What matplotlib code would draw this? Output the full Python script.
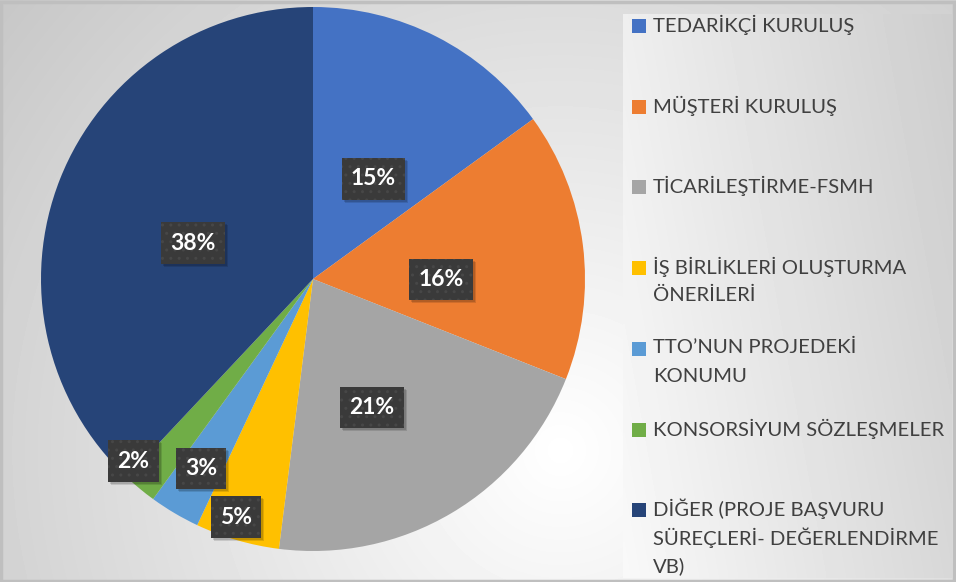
import numpy as np
import matplotlib.pyplot as plt
from matplotlib.patches import Rectangle
from matplotlib.path import Path

categories = [
    "TEDARİKÇİ KURULUŞ",
    "MÜŞTERİ KURULUŞ",
    "TİCARİLEŞTİRME-FSMH",
    "İŞ BİRLİKLERİ OLUŞTURMA\nÖNERİLERİ",
    "TTO’NUN PROJEDEKİ\nKONUMU",
    "KONSORSİYUM SÖZLEŞMELER",
    "DİĞER (PROJE BAŞVURU\nSÜREÇLERİ- DEĞERLENDİRME\nVB)",
]
shares = [15, 16, 21, 5, 3, 2, 38]
colors = ["#4472C4", "#ED7D31", "#A5A5A5", "#FFC000", "#5B9BD5", "#70AD47", "#264478"]
label_dist = [0.43, 0.47, 0.52, 0.92, 0.81, 0.94, 0.46]
label_turn = [-4, -7.5, -6, -1.7, 0, -5, 5]

W, H = 956, 582
plt.rcParams['font.family'] = ['Lato', 'DejaVu Sans']
fig = plt.figure(figsize=(W / 100, H / 100), dpi=100)

# background: radial gradient for the chart area, linear one for the legend box
bg = fig.add_axes([0, 0, 1, 1], zorder=-2)
yy, xx = np.mgrid[0:H, 0:W]
d = np.hypot(xx - 560, yy - 450) / 718
bg.imshow(1 - 0.22 * np.clip(d, 0, 1.1), cmap='gray', vmin=0, vmax=1,
          extent=[0, W, H, 0], aspect='auto', interpolation='bilinear')
ly, lx = np.mgrid[0:1:100j, 0:1:100j]
bg.imshow(0.975 - 0.13 * lx - 0.04 * (1 - ly), cmap='gray', vmin=0, vmax=1,
          extent=[623, 952, 578, 14], aspect='auto', interpolation='bilinear')
bg.add_patch(Rectangle((1.5, 1.5), W - 3, H - 3, fill=False, ec='#bfbfbf', lw=2.5))
bg.set_xlim(0, W)
bg.set_ylim(H, 0)
bg.axis('off')


def label_box(x0, y0, width, height, mutation_size):
    # more vertical padding than horizontal, like the excel data labels
    px, py = 0.4 * mutation_size, 0.45 * mutation_size
    x0, y0 = x0 - px, y0 - py
    x1, y1 = x0 + width + 2 * px, y0 + height + 2 * py
    return Path([(x0, y0), (x1, y0), (x1, y1), (x0, y1), (x0, y0)], closed=True)


# pie
cx, cy, r = 313, 279, 272
ax = fig.add_axes([(cx - r) / W, (H - cy - r) / H, 2 * r / W, 2 * r / H])
wedges, _ = ax.pie(shares, colors=colors, startangle=90, counterclock=False,
                   radius=1, wedgeprops=dict(linewidth=0))
ax.set_xlim(-1, 1)
ax.set_ylim(-1, 1)
ax.set_aspect('auto')

labels = []
for w, dist, turn, v in zip(wedges, label_dist, label_turn, shares):
    ang = np.deg2rad((w.theta1 + w.theta2) / 2 + turn)
    t = ax.text(dist * np.cos(ang), dist * np.sin(ang), f"{v}%", color='white',
                fontsize=16.5, fontweight='bold', ha='center', va='center', zorder=5,
                bbox=dict(boxstyle=label_box, fc='#3a3a3a', ec='#474747',
                          lw=0, hatch='..'))
    labels.append(t)

# soft shadows behind the label boxes
fig.canvas.draw()
for t in labels:
    ext = t.get_bbox_patch().get_window_extent()
    for k, a in ((3, 0.12), (2, 0.14)):
        ax.add_patch(Rectangle((ext.x0 + k, ext.y0 - k), ext.width, ext.height,
                               transform=None, fc='black', alpha=a, lw=0, zorder=4))

# legend, entries on evenly spaced slots like the original
y0, step, line_h = 26, 80.7, 28.5
for i, (lab, c) in enumerate(zip(categories, colors)):
    yc = y0 + i * step
    bg.add_patch(Rectangle((632, yc - 7), 14, 14, fc=c, ec='none'))
    for j, line in enumerate(lab.split("\n")):
        bg.text(653, yc + j * line_h - 1, line, fontsize=14.6, color='#404040',
                ha='left', va='center')

fig.savefig('out.png', dpi=100)
